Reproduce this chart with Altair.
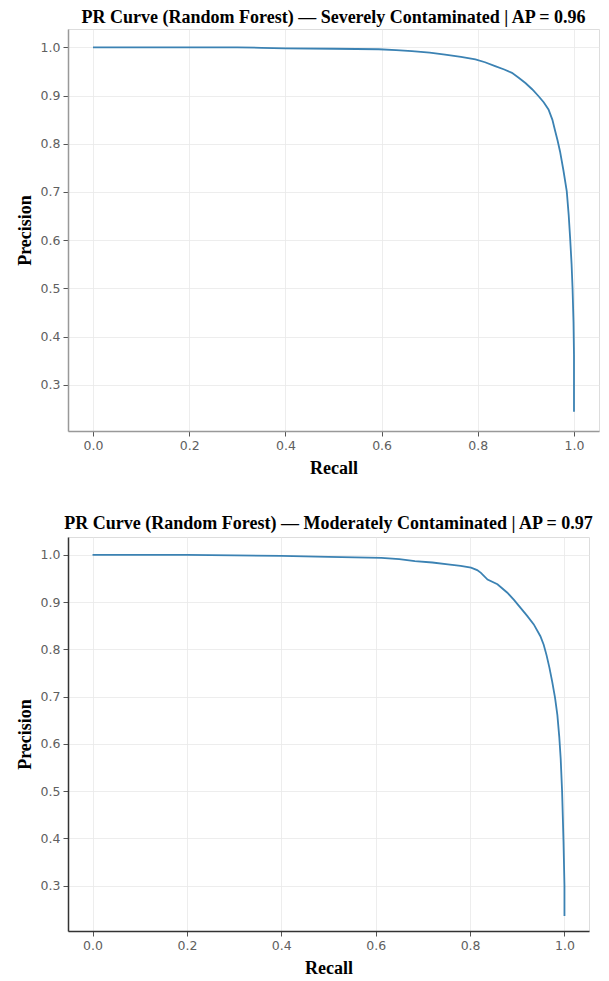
import altair as alt
import pandas as pd

# Severely contaminated
sev_recall = [0.0, 0.1, 0.2, 0.3, 0.35, 0.4, 0.5, 0.594, 0.63, 0.663, 0.70, 0.732, 0.765, 0.795,
              0.815, 0.836, 0.855, 0.871, 0.885, 0.899, 0.913, 0.926, 0.937, 0.947, 0.955, 0.961,
              0.966, 0.971, 0.978, 0.985, 0.989, 0.992, 0.995, 0.997, 0.999, 1.0, 1.0]
sev_precision = [1.0, 1.0, 1.0, 1.0, 0.999, 0.998, 0.997, 0.996, 0.994, 0.992, 0.989, 0.985, 0.980,
                 0.975, 0.969, 0.961, 0.954, 0.947, 0.937, 0.926, 0.913, 0.899, 0.886, 0.871, 0.850,
                 0.826, 0.806, 0.784, 0.745, 0.701, 0.652, 0.604, 0.55, 0.50, 0.43, 0.362, 0.244]

# Moderately contaminated
mod_recall = [0.0, 0.1, 0.2, 0.3, 0.4, 0.5, 0.612, 0.65, 0.683, 0.72, 0.753, 0.78, 0.802, 0.815,
              0.823, 0.837, 0.858, 0.879, 0.893, 0.907, 0.921, 0.935, 0.949, 0.956, 0.962, 0.968,
              0.974, 0.980, 0.985, 0.989, 0.992, 0.995, 0.998, 1.0, 1.0]
mod_precision = [1.0, 1.0, 1.0, 0.999, 0.998, 0.996, 0.994, 0.991, 0.987, 0.984, 0.980, 0.977, 0.973,
                 0.968, 0.962, 0.948, 0.938, 0.920, 0.905, 0.888, 0.871, 0.853, 0.828, 0.810, 0.788,
                 0.762, 0.732, 0.698, 0.661, 0.615, 0.569, 0.499, 0.393, 0.30, 0.236]

x_ticks = [0.0, 0.2, 0.4, 0.6, 0.8, 1.0]
y_ticks = [0.3, 0.4, 0.5, 0.6, 0.7, 0.8, 0.9, 1.0]

titles = [
    "PR Curve (Random Forest)  \u2014 Severely Contaminated | AP = 0.96",
    "PR Curve (Random Forest)  \u2014 Moderately Contaminated | AP = 0.97",
]

LINE = "#3b82b3"
SERIF = "Liberation Serif"


def panel(rec, prec, title, width, height, dom_color, title_offset):
    df = pd.DataFrame({"Recall": rec, "Precision": prec, "i": list(range(len(rec)))})
    axis_common = dict(
        labelFont="DejaVu Sans", labelFontSize=12.5, labelColor="#606060",
        titleFont=SERIF, titleFontSize=18, titleFontWeight="bold", titleColor="black",
        grid=True, gridColor="#e9e9e9", gridWidth=0.8,
        domainColor=dom_color, domainWidth=1.5,
        tickColor="#555555", tickSize=5, labelPadding=3, format=".1f",
    )
    return alt.Chart(
        df,
        title=alt.Title(title, font=SERIF, fontSize=18, fontWeight="bold", color="black",
                        offset=title_offset, anchor="middle"),
    ).mark_line(color=LINE, strokeWidth=1.8).encode(
        x=alt.X("Recall:Q", scale=alt.Scale(domain=[-0.052, 1.052], nice=False, zero=False),
                axis=alt.Axis(values=x_ticks, title="Recall", titlePadding=8, **axis_common)),
        y=alt.Y("Precision:Q", scale=alt.Scale(domain=[0.204, 1.038], nice=False, zero=False),
                axis=alt.Axis(values=y_ticks, title="Precision", titlePadding=6, **axis_common)),
        order="i:Q",
    ).properties(width=width, height=height)


top = panel(sev_recall, sev_precision, titles[0], 531, 402, "#999999", 2)
bottom = panel(mod_recall, mod_precision, titles[1], 521, 394, "#333333", 4)

chart = alt.vconcat(top, bottom, spacing=36).properties(
    padding={"left": 7, "top": 0, "right": 0, "bottom": 0}
).configure_view(stroke="#999999", strokeWidth=1.5).configure(background="white")

chart.save("out.html", embed_options={"renderer": "svg", "actions": False})
